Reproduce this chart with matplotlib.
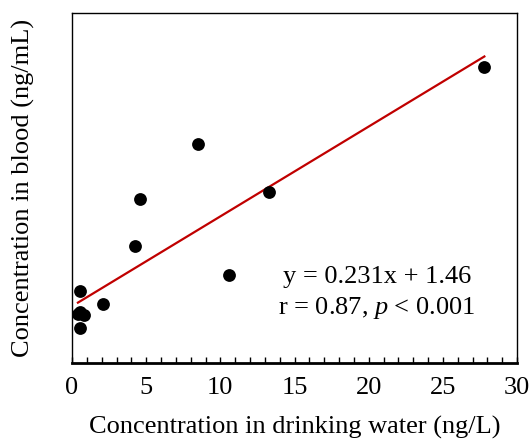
import numpy as np
import matplotlib.pyplot as plt

plt.rcParams['font.family'] = ['Liberation Serif', 'DejaVu Serif']
plt.rcParams['mathtext.fontset'] = 'custom'
plt.rcParams['mathtext.it'] = 'Liberation Serif:italic'
plt.rcParams['mathtext.rm'] = 'Liberation Serif'

# drinking water vs blood concentrations
water = [27.8, 8.5, 4.56, 13.26, 4.25, 10.57, 2.09, 0.54, 0.54, 0.81, 0.54, 0.40]
blood = [7.61, 5.63, 4.22, 4.40, 3.00, 2.26, 1.53, 1.86, 1.32, 1.23, 0.89, 1.26]

slope = 0.231
intercept = 1.46
fit_x = [0.4, 27.8]

fig = plt.figure(figsize=(5.31, 4.43), dpi=100)
ax = fig.add_axes([72/531, 80/443, 445/531, 350/443])

fit_y = [slope*v + intercept for v in fit_x]
ax.plot(fit_x, fit_y, color='#c00000', lw=1.6, zorder=2)
ax.scatter(water, blood, s=85, color='black', zorder=3, linewidths=0)

ax.set_xlim(0, 30)
ax.set_ylim(0, 9)

ax.set_xticks(range(0, 31))
ax.set_xticklabels([str(i) if i % 5 == 0 else '' for i in range(0, 31)], fontsize=19)
ax.tick_params(axis='x', direction='in', length=4, width=1, pad=10, color='black')
ax.set_yticks([])

for s in ['top', 'right', 'left']:
    ax.spines[s].set_linewidth(1)
ax.spines['bottom'].set_linewidth(2)

# the reference crops this label at the bottom edge; nudged up so it stays readable
ax.set_xlabel('Concentration in drinking water (ng/L)', fontsize=19)
ax.xaxis.set_label_coords(0.5, -0.152)
ax.xaxis.label.set_va('top')
ax.set_ylabel('Concentration in blood (ng/mL)', fontsize=19)
ax.yaxis.set_label_coords(-0.11, 0.5)
ax.yaxis.label.set_va('center')

ax.text(0.685, 0.245, 'y = 0.231x + 1.46', transform=ax.transAxes,
        fontsize=19, ha='center', va='center')
ax.text(0.685, 0.157, 'r = 0.87, $p$ < 0.001', transform=ax.transAxes,
        fontsize=19, ha='center', va='center')

fig.savefig('out.png', dpi=100)
